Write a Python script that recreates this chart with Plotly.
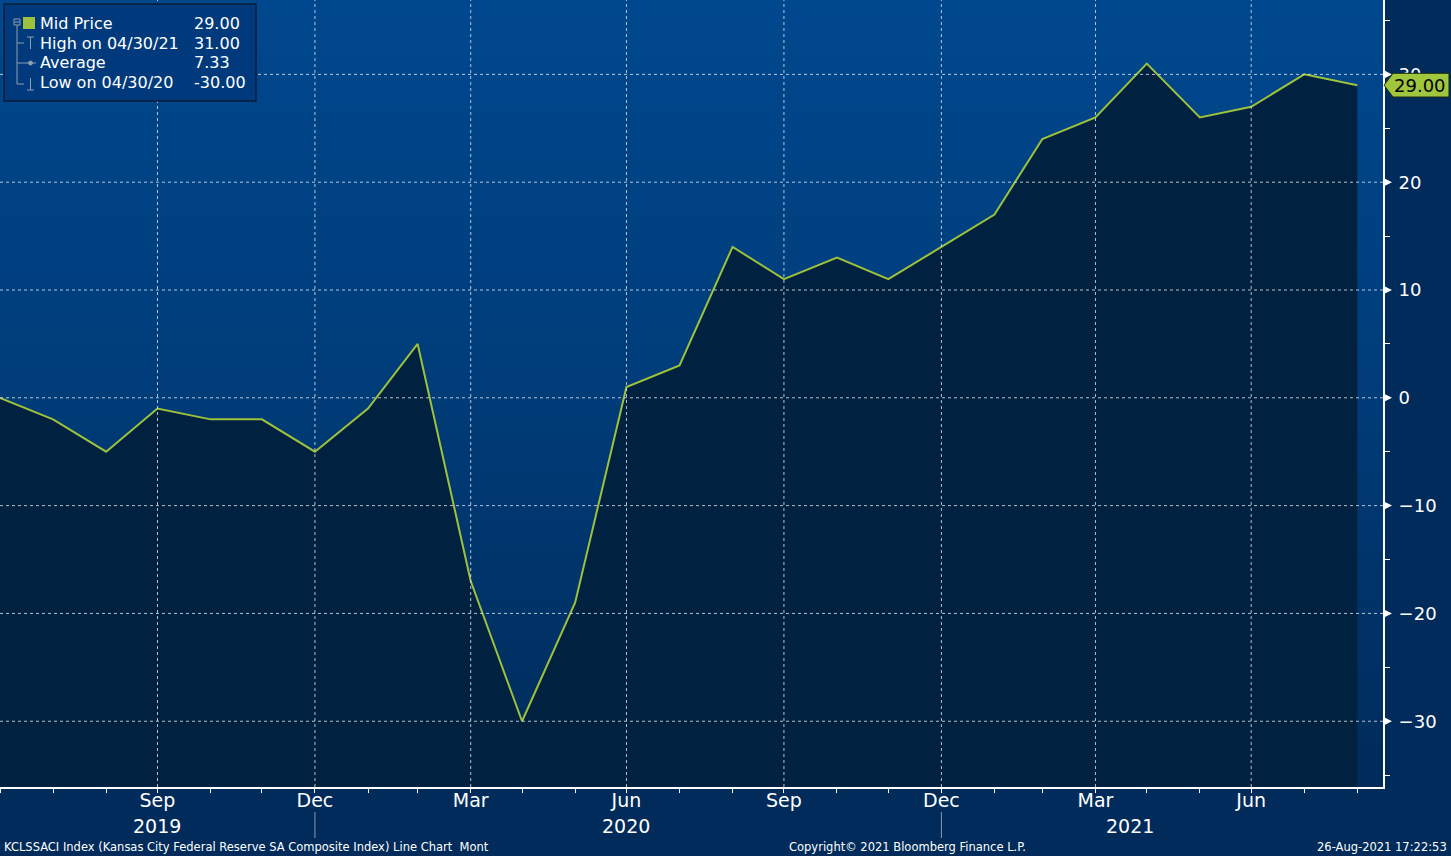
import plotly.graph_objects as go

# ---------------- data ----------------
DATES = ["2019-06-30", "2019-07-31", "2019-08-31", "2019-09-30", "2019-10-31", "2019-11-30",
         "2019-12-31", "2020-01-31", "2020-02-29", "2020-03-31", "2020-04-30", "2020-05-31",
         "2020-06-30", "2020-07-31", "2020-08-31", "2020-09-30", "2020-10-31", "2020-11-30",
         "2020-12-31", "2021-01-31", "2021-02-28", "2021-03-31", "2021-04-30", "2021-05-31",
         "2021-06-30", "2021-07-31", "2021-08-31"]
VALUES = [0, -2, -5, -1, -2, -2, -5, -1, 5, -17, -30, -19, 1, 3, 14, 11, 13, 11, 14, 17,
          24, 26, 31, 26, 27, 30, 29]
X_TICKS = ["2019-09-30", "2019-12-31", "2020-03-31", "2020-06-30", "2020-09-30",
           "2020-12-31", "2021-03-31", "2021-06-30"]
X_TICK_LABELS = ["Sep", "Dec", "Mar", "Jun", "Sep", "Dec", "Mar", "Jun"]
YEAR_LABELS = ["2019", "2020", "2021"]
YEAR_POS = ["2019-09-30", "2020-06-30", "2021-04-20"]
YEAR_SEPS = ["2019-12-31", "2020-12-31"]
Y_TICKS = [-30, -20, -10, 0, 10, 20, 30]
LEGEND_ROWS = [("Mid Price", "29.00"), ("High on 04/30/21", "31.00"),
               ("Average", "7.33"), ("Low on 04/30/20", "-30.00")]
LAST_LABEL = "29.00"
LAST_VALUE = 29

Y_MIN, Y_MAX = -36.1, 36.9
X_RANGE = ["2019-06-30", "2021-09-15"]

# ---------------- styling ----------------
W, H = 1451, 856
ML, MR, MT, MB = 0, 68, 0, 69
PW, PH = W - ML - MR, H - MT - MB
LINE = "#9dc13b"
FILL = "#00213f"
FONT = "DejaVu Sans"


def xp(px):
    return (px - ML) / PW


def yp(py):
    return 1 - (py - MT) / PH


shapes = []
# background gradient strips
top = (0, 72, 142)
mid = (0, 60, 121)
bot = (0, 43, 90)
N = 60
for i in range(N):
    t = (i + 0.5) / N
    if t < 0.5:
        a, b, f = top, mid, t / 0.5
    else:
        a, b, f = mid, bot, (t - 0.5) / 0.5
    c = tuple(int(round(a[k] + (b[k] - a[k]) * f)) for k in range(3))
    shapes.append(dict(type="rect", xref="paper", yref="paper", x0=0, x1=1,
                       y0=1 - (i + 1) / N, y1=1 - i / N + 0.001, line=dict(width=0),
                       fillcolor="rgb(%d,%d,%d)" % c, layer="below"))

GRID = dict(color="rgba(215,222,232,0.85)", width=1, dash="dot")
for v in Y_TICKS:
    shapes.append(dict(type="line", xref="paper", yref="y", x0=0, x1=1, y0=v, y1=v,
                       line=GRID, layer="above"))
for d in X_TICKS:
    shapes.append(dict(type="line", xref="x", yref="paper", x0=d, x1=d, y0=0, y1=1,
                       line=GRID, layer="above"))
# tick arrows on right axis
for v in Y_TICKS:
    shapes.append(dict(type="path", xref="paper", yref="y",
                       path="M %f,%f L %f,%f L %f,%f Z" % (1.0, v - 0.42, xp(ML + PW + 9), v,
                                                            1.0, v + 0.42),
                       fillcolor="white", line=dict(width=0), layer="above"))
# year separators
for d in YEAR_SEPS:
    shapes.append(dict(type="line", xref="x", yref="paper", x0=d, x1=d,
                       y0=yp(812), y1=yp(838), line=dict(color="#8a9ab2", width=1)))

# last value tag
tx0, tx1 = xp(1384), xp(1449)
tn = xp(1393)
hh = 1.1
shapes.append(dict(type="path", xref="paper", yref="y",
                   path="M %f,%f L %f,%f L %f,%f L %f,%f L %f,%f Z" % (
                       tx0, LAST_VALUE, tn, LAST_VALUE + hh, tx1, LAST_VALUE + hh,
                       tx1, LAST_VALUE - hh, tn, LAST_VALUE - hh),
                   fillcolor="#9fc63d", line=dict(color="#1a2a10", width=1), layer="above"))

# legend box
shapes.append(dict(type="rect", xref="paper", yref="paper", x0=xp(4), x1=xp(256),
                   y0=yp(101), y1=yp(4), fillcolor="#003a7c",
                   line=dict(color="#0b1d38", width=1.5), layer="above"))
TREE = dict(color="#8f9db0", width=1)
shapes.append(dict(type="rect", xref="paper", yref="paper", x0=xp(14), x1=xp(20),
                   y0=yp(25), y1=yp(19), line=TREE, layer="above"))
shapes.append(dict(type="line", xref="paper", yref="paper", x0=xp(14.5), x1=xp(19.5),
                   y0=yp(22), y1=yp(22), line=TREE, layer="above"))
shapes.append(dict(type="line", xref="paper", yref="paper", x0=xp(17), x1=xp(17),
                   y0=yp(25), y1=yp(84), line=TREE, layer="above"))
for ry in (43, 63, 84):
    shapes.append(dict(type="line", xref="paper", yref="paper", x0=xp(17), x1=xp(24),
                       y0=yp(ry), y1=yp(ry), line=TREE, layer="above"))
# icons: high (T), average (dot line), low (inverted T)
shapes += [
    dict(type="line", xref="paper", yref="paper", x0=xp(27), x1=xp(34), y0=yp(37), y1=yp(37), line=TREE, layer="above"),
    dict(type="line", xref="paper", yref="paper", x0=xp(30.5), x1=xp(30.5), y0=yp(37), y1=yp(49), line=TREE, layer="above"),
    dict(type="line", xref="paper", yref="paper", x0=xp(24), x1=xp(36), y0=yp(63), y1=yp(63), line=TREE, layer="above"),
    dict(type="circle", xref="paper", yref="paper", x0=xp(28.5), x1=xp(32.5), y0=yp(65), y1=yp(61), fillcolor="#8f9db0", line=TREE, layer="above"),
    dict(type="line", xref="paper", yref="paper", x0=xp(27), x1=xp(34), y0=yp(90), y1=yp(90), line=TREE, layer="above"),
    dict(type="line", xref="paper", yref="paper", x0=xp(30.5), x1=xp(30.5), y0=yp(78), y1=yp(90), line=TREE, layer="above"),
    dict(type="rect", xref="paper", yref="paper", x0=xp(23), x1=xp(35), y0=yp(29), y1=yp(17), fillcolor=LINE, line=dict(width=0), layer="above"),
]

annotations = []
for i, (lab, val) in enumerate(LEGEND_ROWS):
    cy = 23 + 20 * i
    annotations.append(dict(xref="paper", yref="paper", x=xp(38), y=yp(cy), text=lab,
                            showarrow=False, xanchor="left", yanchor="middle",
                            font=dict(family=FONT, size=16, color="white")))
    annotations.append(dict(xref="paper", yref="paper", x=xp(192), y=yp(cy), text=val,
                            showarrow=False, xanchor="left", yanchor="middle",
                            font=dict(family=FONT, size=16, color="white")))
for lab, d in zip(YEAR_LABELS, YEAR_POS):
    annotations.append(dict(xref="x", yref="paper", x=d, y=yp(826), text=lab,
                            showarrow=False, xanchor="center", yanchor="middle",
                            font=dict(family=FONT, size=19, color="white")))
annotations.append(dict(xref="paper", yref="y", x=(tn + tx1) / 2 - 0.001, y=LAST_VALUE,
                        text=LAST_LABEL, showarrow=False, xanchor="center", yanchor="middle",
                        font=dict(family=FONT, size=18, color="black")))
FOOT = dict(family=FONT, size=11.5, color="white")
annotations += [
    dict(xref="paper", yref="paper", x=xp(2), y=yp(847), xanchor="left", yanchor="middle",
         text="KCLSSACI Index (Kansas City Federal Reserve SA Composite Index) Line Chart  Mont",
         showarrow=False, font=FOOT),
    dict(xref="paper", yref="paper", x=xp(908), y=yp(847), xanchor="center", yanchor="middle",
         text="Copyright© 2021 Bloomberg Finance L.P.", showarrow=False, font=FOOT),
    dict(xref="paper", yref="paper", x=xp(1449), y=yp(847), xanchor="right", yanchor="middle",
         text="26-Aug-2021 17:22:53", showarrow=False, font=FOOT),
]

fig = go.Figure()
fig.add_trace(go.Scatter(x=DATES, y=[Y_MIN] * len(DATES), mode="lines",
                         line=dict(width=0), hoverinfo="skip", showlegend=False))
fig.add_trace(go.Scatter(x=DATES, y=VALUES, mode="lines", fill="tonexty", fillcolor=FILL,
                         line=dict(color=LINE, width=2), name="Mid Price", showlegend=False))

fig.update_layout(
    width=W, height=H, margin=dict(l=ML, r=MR, t=MT, b=MB),
    paper_bgcolor="#002b5a", plot_bgcolor="#003c79",
    shapes=shapes, annotations=annotations, showlegend=False,
    font=dict(family=FONT, color="white"),
    xaxis=dict(type="date", range=X_RANGE, tickmode="array", tickvals=X_TICKS,
               ticktext=X_TICK_LABELS, showgrid=False, zeroline=False,
               showline=True, linecolor="white", linewidth=2,
               ticks="outside", ticklen=4, tickcolor="white", tickwidth=1,
               ticklabelstandoff=-9,
               tickfont=dict(family=FONT, size=19, color="white"),
               minor=dict(dtick="M1", tick0="2019-06-30", ticks="outside", ticklen=4,
                          tickcolor="white", tickwidth=1, showgrid=False)),
    yaxis=dict(side="right", range=[Y_MIN, Y_MAX], tickmode="array", tickvals=Y_TICKS,
               showgrid=False, zeroline=False, showline=True, linecolor="white", linewidth=2,
               ticks="", ticklabelstandoff=10,
               tickfont=dict(family=FONT, size=18, color="white"),
               minor=dict(dtick=5, tick0=0, ticks="outside", ticklen=5, tickcolor="white",
                          tickwidth=1, showgrid=False)),
)

fig.write_html("out.html")
